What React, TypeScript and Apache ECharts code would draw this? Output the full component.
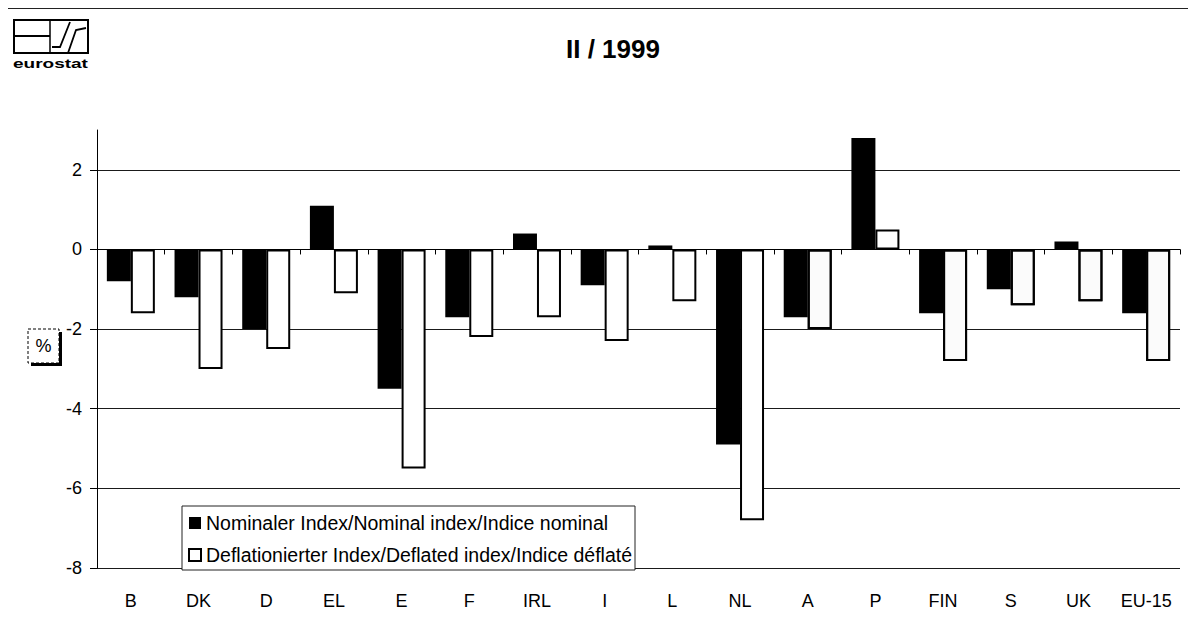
import React, { useEffect, useRef } from "react";
import * as echarts from "echarts";

const categories = ["B", "DK", "D", "EL", "E", "F", "IRL", "I", "L", "NL", "A", "P", "FIN", "S", "UK", "EU-15"];
const nominal = [-0.8, -1.2, -2.0, 1.1, -3.5, -1.7, 0.4, -0.9, 0.1, -4.9, -1.7, 2.8, -1.6, -1.0, 0.2, -1.6];
const deflated = [-1.6, -3.0, -2.5, -1.1, -5.5, -2.2, -1.7, -2.3, -1.3, -6.8, -2.0, 0.5, -2.8, -1.4, -1.3, -2.8];
const yTicks = [-8, -6, -4, -2, 0, 2];
const stippled = ["A", "FIN", "S", "UK", "EU-15"];
const seriesNames = [
  "Nominaler Index/Nominal index/Indice nominal",
  "Deflationierter Index/Deflated index/Indice déflaté",
];
const titleText = "II / 1999";

const FONT = "'Liberation Sans', Arial, sans-serif";

export default function App() {
  const ref = useRef<HTMLDivElement>(null);
  useEffect(() => {
    if (!ref.current) return;
    const chart = echarts.init(ref.current, null, { renderer: "svg" });
    const dotDecal = {
      symbol: "circle",
      symbolSize: 0.4,
      color: "rgba(0,0,0,0.5)",
      backgroundColor: "#ffffff",
      dashArrayX: [[1, 5], [0, 3, 1, 2]],
      dashArrayY: [1, 4],
      rotation: 0.6,
    };
    chart.setOption({
      animation: false,
      backgroundColor: "#ffffff",
      textStyle: { fontFamily: FONT },
      grid: { left: 97, right: 16, top: 130, bottom: 64, containLabel: false },
      legend: {
        orient: "vertical",
        left: 182,
        top: 506,
        data: seriesNames,
        backgroundColor: "#ffffff",
        borderColor: "#222",
        borderWidth: 1,
        borderRadius: 0,
        padding: [6, 3, 4, 6],
        itemWidth: 12,
        itemHeight: 12,
        itemGap: 10,
        icon: "rect",
        textStyle: { fontFamily: FONT, fontSize: 19.5, color: "#000", lineHeight: 22 },
        z: 10,
      },
      xAxis: [
        {
          type: "category",
          data: categories,
          position: "bottom",
          axisLine: { show: true, onZero: true, lineStyle: { color: "#000", width: 1 } },
          axisTick: { show: true, length: 5, lineStyle: { color: "#000" } },
          axisLabel: { show: false },
          splitLine: { show: false },
        },
        {
          type: "category",
          data: categories,
          position: "bottom",
          axisLine: { show: false, onZero: false },
          axisTick: { show: false },
          axisLabel: { show: true, margin: 24, fontSize: 18, color: "#000", fontFamily: FONT },
          splitLine: { show: false },
        },
      ],
      yAxis: {
        type: "value",
        min: -8,
        max: 3,
        axisLine: { show: true, lineStyle: { color: "#000", width: 1 } },
        axisTick: { show: true, length: 7, customValues: yTicks, lineStyle: { color: "#000" } },
        axisLabel: { customValues: yTicks, margin: 15, fontSize: 18, color: "#000", fontFamily: FONT },
        splitLine: { show: true, lineStyle: { color: "#1a1a1a", width: 1 } },
      },
      series: [
        {
          name: seriesNames[0],
          type: "bar",
          xAxisIndex: 0,
          data: nominal,
          barWidth: 24,
          barGap: "0%",
          itemStyle: { color: "#000" },
        },
        {
          name: seriesNames[1],
          type: "bar",
          xAxisIndex: 0,
          data: deflated.map((v, i) =>
            stippled.includes(categories[i])
              ? { value: v, itemStyle: { color: "#fbfbfb", borderColor: "#000", borderWidth: 2, decal: dotDecal } }
              : v
          ),
          barWidth: 24,
          itemStyle: { color: "#ffffff", borderColor: "#000", borderWidth: 2 },
        },
      ],
      graphic: [
        { type: "line", shape: { x1: 5, y1: 8, x2: 1196, y2: 8 }, style: { stroke: "#222", lineWidth: 2 } },
        { type: "line", shape: { x1: 6, y1: 8, x2: 6, y2: 632 }, style: { stroke: "#333", lineWidth: 1 } },
        {
          type: "text",
          left: 566,
          top: 36,
          style: { text: titleText, font: `bold 26px ${FONT}`, fill: "#000" },
        },
        // eurostat logo
        { type: "rect", shape: { x: 14, y: 20, width: 74, height: 33 }, style: { fill: "none", stroke: "#000", lineWidth: 2 } },
        { type: "line", shape: { x1: 50, y1: 20, x2: 50, y2: 53 }, style: { stroke: "#000", lineWidth: 1.5 } },
        { type: "line", shape: { x1: 14, y1: 36, x2: 50, y2: 36 }, style: { stroke: "#000", lineWidth: 2 } },
        { type: "polyline", shape: { points: [[52, 47], [60, 47], [70, 22]] }, style: { fill: "none", stroke: "#000", lineWidth: 1.8 } },
        { type: "polyline", shape: { points: [[68, 53], [76, 30], [86, 28]] }, style: { fill: "none", stroke: "#000", lineWidth: 1.8 } },
        {
          type: "text",
          x: 13,
          y: 57,
          scaleY: 0.72,
          style: { text: "eurostat", font: `bold 19px ${FONT}`, fill: "#000" },
        },
        // % box
        { type: "rect", shape: { x: 31, y: 332, width: 31, height: 34 }, style: { fill: "#000" } },
        { type: "rect", shape: { x: 28, y: 329, width: 31, height: 34 }, style: { fill: "#ffffff", stroke: "#000", lineWidth: 1, lineDash: [3, 2] } },
        {
          type: "text",
          x: 43.5,
          y: 346,
          style: { text: "%", font: `18px ${FONT}`, fill: "#000", align: "center", verticalAlign: "middle" },
        },
      ],
    });
    return () => chart.dispose();
  }, []);
  return <div ref={ref} style={{ width: 1196, height: 632, margin: -8 }} />;
}
